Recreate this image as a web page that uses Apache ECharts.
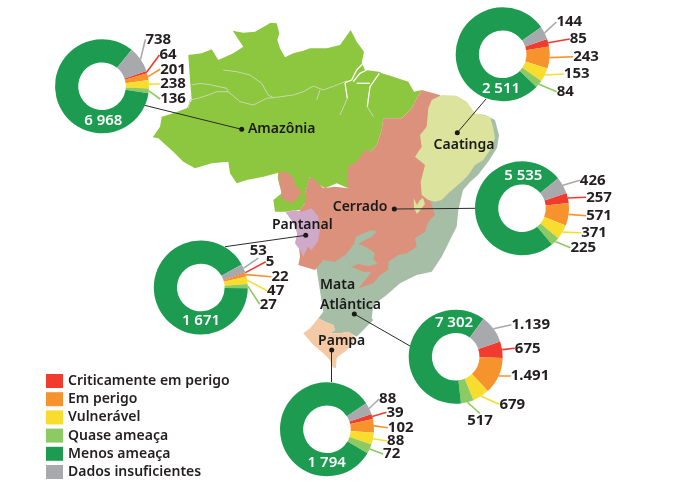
<!DOCTYPE html>
<html>
<head>
<meta charset="utf-8">
<style>
html, body { margin: 0; padding: 0; background: #fff; }
#chart { width: 690px; height: 486px; }
</style>
<script src="https://cdn.jsdelivr.net/npm/echarts@6/dist/echarts.min.js"></script>
</head>
<body>
<div id="chart"></div>
<script>
const categorias = ['Criticamente em perigo', 'Em perigo', 'Vulnerável', 'Quase ameaça', 'Menos ameaça', 'Dados insuficientes'];
const cores = ['#F03B2E', '#F7932D', '#F8DD2E', '#8CCA63', '#1D9C51', '#A7A9AC'];

// valores por bioma, na ordem de categorias
const amazonia = [64, 201, 238, 136, 6968, 738];
const caatinga = [85, 243, 153, 84, 2511, 144];
const cerrado = [257, 571, 371, 225, 5535, 426];
const pantanal = [5, 22, 47, 27, 1671, 53];
const mataAtlantica = [675, 1491, 679, 517, 7302, 1139];
const pampa = [39, 102, 88, 72, 1794, 88];

// posicao de cada rosca e dos seus rotulos, em pixels
const roscas = [
    { nome: 'Amazônia', valores: amazonia, centro: [102, 86.3], rotulos: [[168, 55], [173, 69.3], [173, 84], [173, 99], [103.3, 121], [158.3, 39.3]] },
    { nome: 'Caatinga', valores: caatinga, centro: [502.7, 54.3], rotulos: [[578.3, 39], [586, 56.7], [576.7, 74], [565.3, 91.7], [501, 88.3], [569.3, 22]] },
    { nome: 'Cerrado', valores: cerrado, centro: [522, 208.3], rotulos: [[599, 197.3], [599, 215.7], [594, 232.7], [583.3, 247.7], [523.3, 175.7], [592.7, 180.3]] },
    { nome: 'Pantanal', valores: pantanal, centro: [200.8, 287.5], rotulos: [[270, 261.7], [280, 276.7], [275.7, 290.7], [268.3, 304.3], [201, 320.3], [258.3, 250.7]] },
    { nome: 'Mata Atlântica', valores: mataAtlantica, centro: [455.7, 356.7], rotulos: [[527.7, 348.3], [530, 376], [512.3, 404.3], [480, 421], [454, 322.7], [530.7, 324.7]] },
    { nome: 'Pampa', valores: pampa, centro: [327, 429.3], rotulos: [[395, 412.3], [400.7, 427.7], [395.7, 441], [391.7, 454], [326.7, 462.7], [387.7, 399]] }
];

// contornos dos biomas, aproximados do mapa (pixels da imagem)
const biomas = [
    { nome: 'Amazonia', cor: '#8DC63F', contorno: [[232.7,30.7],[243.3,32.7],[255,31.7],[270.7,22.7],[276.7,23.3],[279.3,33.3],[277.3,40],[280,48.3],[285,57.3],[293.3,53.3],[303.3,50.7],[310,48.3],[326.7,48.3],[340,45],[350.7,30],[356.7,41.7],[364,51.7],[361.7,62.7],[365,70],[379.3,71.7],[381.7,73.3],[393.3,76.7],[408.3,81.7],[414,91.7],[421.7,90],[416.7,98.3],[411.7,108.3],[401.7,118.3],[383.3,118.3],[381.7,130],[376.7,145],[370,151.7],[363.3,160],[348.3,168.3],[350,176.7],[348.3,188.3],[336.7,183.3],[325,188.3],[316.7,183.3],[310,176.7],[305,193.3],[305,203],[300,210],[295,210],[286.7,211.7],[275,211.7],[273.3,200],[281.7,193.3],[280,186.7],[277.7,178.3],[278.3,172.7],[263.3,176.7],[246.7,180],[236.7,183.3],[230,173.3],[228.3,161.7],[211.7,163.3],[195,168.3],[183.3,161.7],[173.3,151.7],[158.3,138.3],[152.7,137.3],[160,126.7],[161.7,116.7],[173.3,113.3],[186.7,108.3],[191.7,100],[190,80],[188.3,55],[201.7,53.3],[211.7,49.3],[218.3,60],[233.3,53.3],[243.3,46.7]] },
    { nome: 'Mata', cor: '#A6BEA5', contorno: [[495,120],[499,135],[497,148],[488,162],[478,175],[470,182],[463,190],[458.3,210],[456.7,226.7],[450,240],[441.7,256.7],[431.7,271.7],[416.7,275],[400,283.3],[386.7,295],[373.3,305],[371.7,318.3],[373.3,320],[365,328.3],[356.7,336.7],[353.3,335],[348.3,331.7],[340,333.3],[330,333.3],[335,330],[333.3,325],[325,321.7],[318.3,318.3],[323.3,311.7],[316.7,270],[315,262],[340,240],[420,200],[430,130],[445,110],[485,115]] },
    { nome: 'CerradoBloco', cor: '#DC917C', contorno: [[278.3,172.7],[285,171.7],[293.3,176.7],[295,185],[301.7,192],[298,198],[291.7,203.3],[281.7,198.3],[281,190],[279,182]] },
    { nome: 'Cerrado', cor: '#DC917C', contorno: [[305,193.3],[307.7,183.3],[310,176.7],[315,180],[320,185],[323.3,188.3],[335,186.7],[348.3,188.3],[346.7,181.7],[348.3,166.7],[356.7,161.7],[365,150],[370,151.7],[376.7,145],[381.7,130],[383.3,118.3],[401.7,118.3],[411.7,108.3],[416.7,98.3],[421.7,90],[440,95],[440,140],[430,200],[435,215],[428.3,221.7],[425,231.7],[415,238.3],[416.7,246.7],[406.7,253.3],[398.3,255],[388.3,261.7],[388.3,270],[380,275],[373.3,283.3],[358.3,288.3],[366.7,278.3],[371.7,271.7],[363.3,271.7],[351.7,266.7],[345,255],[335,261.7],[323.3,260],[315,270],[298.3,265],[300,256.7],[298,240],[295,220],[300,210],[305,203]] },
    { nome: 'MataBaia', cor: '#A6BEA5', contorno: [[345,255],[350,249.3],[354.3,243.3],[356,236.7],[363.3,233.3],[371.7,230],[376.7,231.7],[371.7,236.7],[365,240],[358.3,244],[366.7,247.3],[375,253.3],[373.3,258.3],[377.3,264],[368.3,266],[358.3,264],[351.7,266.7]] },
    { nome: 'Caatinga', cor: '#DBE39D', contorno: [[431.7,100],[441.7,95],[456.7,95.7],[466.7,101.7],[475,113.3],[490,116.7],[493,127],[495,138],[490,150],[483.3,160],[475,165],[468.3,175],[461.7,181.7],[450,191.7],[441.7,200],[435,201.7],[428.3,200],[421.7,195],[420.7,181.7],[425,165],[415,156.7],[421.7,146.7],[420,135],[426.7,126.7],[428.3,108.3]] },
    { nome: 'CaatingaSul', cor: '#DBE39D', contorno: [[413.7,198],[417,205],[420,200],[423,198],[425,204],[421,209],[417,214],[414,208]] },
    { nome: 'Pantanal', cor: '#CFA9C8', contorno: [[285.7,212.3],[295,210],[301.7,211.7],[311.7,208.3],[318.3,216.7],[320,230],[317.7,241.7],[311.7,250],[307.7,246.7],[303.3,256.7],[300,250],[295,243.3],[297.3,233.3],[293.3,223.3]] },
    { nome: 'Pampa', cor: '#F4C9A5', contorno: [[318.3,318.3],[325,321.7],[333.3,325],[335,330],[330,333.3],[340,333.3],[348.3,331.7],[355,337],[351.7,345],[345,351.7],[340,355],[336.7,358.3],[336,368.3],[332.7,367.3],[330,360],[323.3,353.3],[313.3,345],[303.3,333.3],[310,328.3]] }
];

const riosCinza = [
    [[191.7,85],[200,83.3],[211.7,85],[226.7,88.3],[228.3,91.7],[216.7,91.7],[208.3,95],[198.3,98.3],[190,100],[188.3,108.3]],
    [[223.3,70],[236.7,71.7],[250,75],[261.7,83.3],[268.3,95],[273.3,97.7],[293.3,95],[303.3,91.7],[313.3,86],[323.3,90],[336.7,85],[346.7,81]],
    [[228.3,91.7],[240,101.7],[253.3,105],[266.7,98.3],[273.3,97.7]],
    [[320,90],[316.7,100]],
    [[347.3,98.3],[340,115]],
    [[367.3,106.7],[373.3,116.7]]
];
const riosBrancos = [
    [[345,83],[347.3,98.3]],
    [[379.3,73.3],[370,86.7],[367.3,106.7]],
    [[363.3,63.3],[356.7,70],[351.7,80],[345,82.7]],
    [[366.7,70],[360,73.3],[353.3,81.7]],
    [[356.7,83.3],[370,83.3]]
];

// nome do bioma, ponto no mapa e onde a linha encosta na rosca
const nomesBiomas = [
    { texto: 'Amazônia', pos: [281.7, 129.3] },
    { texto: 'Caatinga', pos: [464, 145] },
    { texto: 'Cerrado', pos: [360, 206.7] },
    { texto: 'Pantanal', pos: [302.3, 224.7] },
    { texto: 'Mata\nAtlântica', pos: [320, 295], esquerda: true },
    { texto: 'Pampa', pos: [341.7, 341] }
];
const ligacoes = [
    [[241.7, 129.3], [143.3, 105]],
    [[457.3, 132.7], [486, 99]],
    [[394.3, 209], [475, 208.3]],
    [[305.7, 235.3], [225, 246.7]],
    [[354.3, 314], [410, 346]],
    [[331.7, 350], [331.7, 382]]
];

const fonte = '"Noto Sans", sans-serif';
const corTexto = '#231F20';

// no mapa o eixo y cresce para cima
const geo = p => [p[0], -p[1]];

echarts.registerMap('biomas', {
    type: 'FeatureCollection',
    features: biomas.map(b => ({
        type: 'Feature',
        properties: { name: b.nome },
        geometry: { type: 'Polygon', coordinates: [b.contorno.concat([b.contorno[0]]).map(geo)] }
    }))
});

function formata(v, i) {
    const s = String(v);
    if (v < 1000) return s;
    return s.slice(0, -3) + (i === 4 ? ' ' : '.') + s.slice(-3);
}

const seriesRoscas = roscas.map(r => ({
    type: 'pie',
    name: r.nome,
    center: r.centro,
    radius: [23.8, 47],
    startAngle: 19,
    silent: true,
    avoidLabelOverlap: false,
    z: 5,
    label: { show: true, position: 'outside', fontFamily: fonte, fontWeight: 700, fontSize: 15, color: corTexto },
    labelLine: { show: true, length: 4, length2: 0, lineStyle: { width: 1.6 } },
    labelLayout: params => ({
        x: r.rotulos[params.dataIndex][0],
        y: r.rotulos[params.dataIndex][1],
        align: 'center',
        verticalAlign: 'middle'
    }),
    data: r.valores.map((v, i) => {
        const item = { name: categorias[i], value: v, label: { formatter: formata(v, i) } };
        if (i === 4) {
            item.label.color = '#fff';
            item.label.fontWeight = 600;
            item.labelLine = { show: false };
        }
        return item;
    })
}));

const chart = echarts.init(document.getElementById('chart'));
chart.setOption({
    animation: false,
    color: cores,
    legend: {
        left: 46,
        top: 374,
        bottom: 0,
        padding: 0,
        orient: 'vertical',
        icon: 'rect',
        itemWidth: 17,
        itemHeight: 14,
        itemGap: 4.2,
        selectedMode: false,
        textStyle: { fontFamily: fonte, fontWeight: 600, fontSize: 14, color: corTexto },
        data: categorias
    },
    geo: {
        map: 'biomas',
        roam: false,
        silent: true,
        aspectScale: 1,
        boundingCoords: [[0, 0], [690, -486]],
        layoutCenter: ['50%', '50%'],
        layoutSize: 690,
        label: { show: false },
        itemStyle: { borderWidth: 0 },
        regions: biomas.map(b => ({ name: b.nome, itemStyle: { areaColor: b.cor, borderWidth: 0 } }))
    },
    series: [
        {
            type: 'lines', coordinateSystem: 'geo', polyline: true, silent: true, z: 2,
            lineStyle: { color: '#C9D8B0', width: 1, opacity: 1 },
            data: riosCinza.map(c => ({ coords: c.map(geo) }))
        },
        {
            type: 'lines', coordinateSystem: 'geo', polyline: true, silent: true, z: 2,
            lineStyle: { color: '#fff', width: 1.3, opacity: 1 },
            data: riosBrancos.map(c => ({ coords: c.map(geo) }))
        },
        {
            type: 'lines', coordinateSystem: 'geo', silent: true, z: 3,
            lineStyle: { color: '#2B2B2B', width: 1, opacity: 1 },
            data: ligacoes.map(c => ({ coords: c.map(geo) }))
        },
        {
            type: 'scatter', coordinateSystem: 'geo', silent: true, z: 4,
            symbolSize: 5,
            itemStyle: { color: '#1A1A1A', opacity: 1 },
            data: ligacoes.map(c => geo(c[0]))
        },
        {
            type: 'scatter', coordinateSystem: 'geo', silent: true, z: 4,
            symbolSize: 0,
            itemStyle: { opacity: 1 },
            label: {
                show: true, position: 'inside', fontFamily: fonte, fontWeight: 600, fontSize: 14,
                lineHeight: 20, color: '#1A1A1A', formatter: p => p.name
            },
            data: nomesBiomas.map(n => ({
                name: n.texto,
                value: geo(n.pos),
                label: n.esquerda ? { align: 'left', position: 'right', distance: 0 } : {}
            }))
        }
    ].concat(seriesRoscas)
});
</script>
</body>
</html>
